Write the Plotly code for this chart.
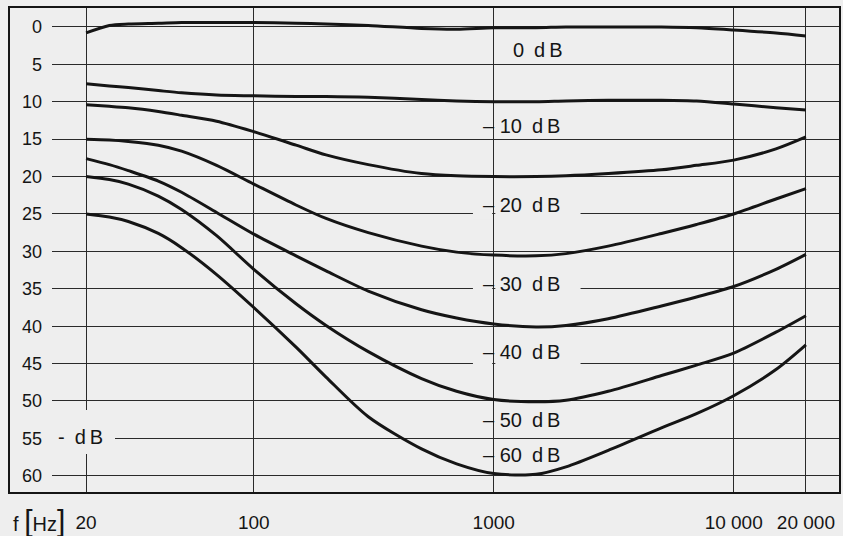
import math
import plotly.graph_objects as go

# ---------------- data ----------------
freq_hz = [20, 25, 30, 40, 50, 70, 100, 150, 200, 300, 500, 700,
           1000, 1500, 2000, 3000, 5000, 7000, 10000, 15000, 20000]

curve_0db = [0.8, -0.2, -0.4, -0.5, -0.6, -0.6, -0.6, -0.5, -0.4, -0.2, 0.2, 0.3,
             0.1, 0.1, 0.0, 0.0, 0.0, 0.1, 0.4, 0.8, 1.2]
curve_10db = [7.6, 7.9, 8.1, 8.5, 8.8, 9.1, 9.2, 9.3, 9.3, 9.4, 9.7, 9.9,
              10.0, 10.0, 9.9, 9.8, 9.8, 9.9, 10.3, 10.8, 11.1]
curve_20db = [10.4, 10.6, 10.8, 11.3, 11.8, 12.6, 14.0, 15.8, 17.1, 18.4, 19.6, 19.9,
              20.0, 20.0, 19.9, 19.6, 19.1, 18.5, 17.8, 16.3, 14.7]
curve_30db = [15.0, 15.1, 15.3, 15.8, 16.6, 18.5, 21.0, 23.8, 25.6, 27.5, 29.3, 30.1,
              30.5, 30.6, 30.3, 29.3, 27.6, 26.4, 25.0, 23.0, 21.6]
curve_40db = [17.6, 18.4, 19.2, 20.6, 22.1, 24.8, 27.7, 30.6, 32.6, 35.3, 37.8, 38.9,
              39.7, 40.1, 39.9, 39.0, 37.3, 36.1, 34.7, 32.4, 30.4]
curve_50db = [20.0, 20.4, 21.0, 22.6, 24.4, 27.9, 32.4, 37.0, 39.9, 43.4, 47.0, 48.7,
              49.8, 50.1, 49.9, 48.7, 46.6, 45.2, 43.6, 40.8, 38.6]
curve_60db = [25.0, 25.4, 26.0, 27.6, 29.5, 33.1, 37.5, 42.8, 46.8, 52.1, 56.4, 58.4,
              59.7, 59.8, 58.8, 56.6, 53.6, 51.7, 49.3, 45.8, 42.5]

all_curves = [curve_0db, curve_10db, curve_20db, curve_30db,
              curve_40db, curve_50db, curve_60db]

x_tick_vals = [20, 100, 1000, 10000, 20000]
x_tick_text = ["20", "100", "1000", "10 000", "20 000"]
y_tick_vals = [0, 5, 10, 15, 20, 25, 30, 35, 40, 45, 50, 55, 60]
y_tick_text = [str(v) for v in y_tick_vals]

curve_label_text = ["0\u2002d\u2009B", "\u2013 10\u2002d\u2009B", "\u2013 20\u2002d\u2009B",
                    "\u2013 30\u2002d\u2009B", "\u2013 40\u2002d\u2009B",
                    "\u2013 50\u2002d\u2009B", "\u2013 60\u2002d\u2009B"]
curve_label_y = [3.1, 13.2, 23.8, 34.3, 43.4, 52.5, 57.2]
curve_label_f = [1180, 885, 885, 885, 885, 885, 885]

axis_unit_text = "-\u2002d\u2009B"
freq_unit_html = ("f <span style='font-size:30px'>[</span>Hz"
                  "<span style='font-size:30px'>]</span>")

# ---------------- style ----------------
W, H = 843, 536
ML, MR, MT, MB = 52, 3, 7, 43
BG = "#eeeeee"
INK = "#151515"
GRID = "#2a2a2a"
FONT = "Liberation Sans, Arial, sans-serif"

fig = go.Figure()

for vals in all_curves:
    fig.add_trace(go.Scatter(
        x=freq_hz, y=vals, mode="lines",
        line=dict(color=INK, width=3, shape="spline", smoothing=0.8),
        hoverinfo="skip", showlegend=False))

# frame around everything (extends left past the plot area, where the y labels sit)
frame_left = (9 - ML) / (W - ML - MR)
fig.add_shape(type="rect", xref="paper", yref="paper",
              x0=frame_left, x1=1, y0=0, y1=1,
              line=dict(color=INK, width=2), fillcolor="rgba(0,0,0,0)", layer="above")

# gaps in the grid where labels sit
masks = [
    (12, 26.4, 51.2, 57.1),        # "- dB" on the left
]
for yv in (25, 35, 45):            # lines broken by the "20/30/40 dB" labels
    masks.append((819, 985, yv - 0.7, yv + 0.7))
    masks.append((1015, 2300, yv - 0.7, yv + 0.7))
for x0, x1, y0, y1 in masks:
    fig.add_shape(type="rect", xref="x", yref="y", x0=x0, x1=x1, y0=y0, y1=y1,
                  line=dict(width=0), fillcolor=BG, layer="between")

# curve labels
for txt, yv, fv in zip(curve_label_text, curve_label_y, curve_label_f):
    fig.add_annotation(x=math.log10(fv), y=yv, xref="x", yref="y", text=txt,
                       showarrow=False, xanchor="left", yanchor="middle",
                       font=dict(size=20, color=INK, family=FONT))

fig.add_annotation(x=math.log10(15), y=54.8, xref="x", yref="y", text=axis_unit_text,
                   showarrow=False, xanchor="left", yanchor="middle",
                   font=dict(size=20, color=INK, family=FONT))

fig.add_annotation(x=(11 - ML) / (W - ML - MR), y=(H - MB - 520) / (H - MT - MB),
                   xref="paper", yref="paper", text=freq_unit_html,
                   showarrow=False, xanchor="left", yanchor="middle",
                   font=dict(size=20, color=INK, family=FONT))

fig.update_layout(
    width=W, height=H,
    margin=dict(l=ML, r=MR, t=MT, b=MB),
    paper_bgcolor=BG, plot_bgcolor=BG,
    font=dict(family=FONT, color=INK),
    showlegend=False,
    xaxis=dict(type="log", range=[1.159, 4.443], tickmode="array",
               tickvals=x_tick_vals, ticktext=x_tick_text, ticks="",
               showgrid=True, gridcolor=GRID, gridwidth=1.3, zeroline=False,
               showline=False, tickfont=dict(size=19, color=INK, family=FONT),
               ticklabelstandoff=16),
    yaxis=dict(range=[62.3, -2.67], autorange=False, tickmode="array",
               tickvals=y_tick_vals, ticktext=y_tick_text, ticks="",
               showgrid=True, gridcolor=GRID, gridwidth=1.3, zeroline=False,
               showline=False, tickfont=dict(size=18, color=INK, family=FONT),
               ticklabelstandoff=9),
)

fig.write_html(
    "out.html",
    config={"displayModeBar": False},
    post_script=("document.body.style.margin='0';"
                 "document.body.style.padding='0';"
                 "document.body.style.overflow='hidden';"
                 "document.body.style.background='" + BG + "';"),
)
